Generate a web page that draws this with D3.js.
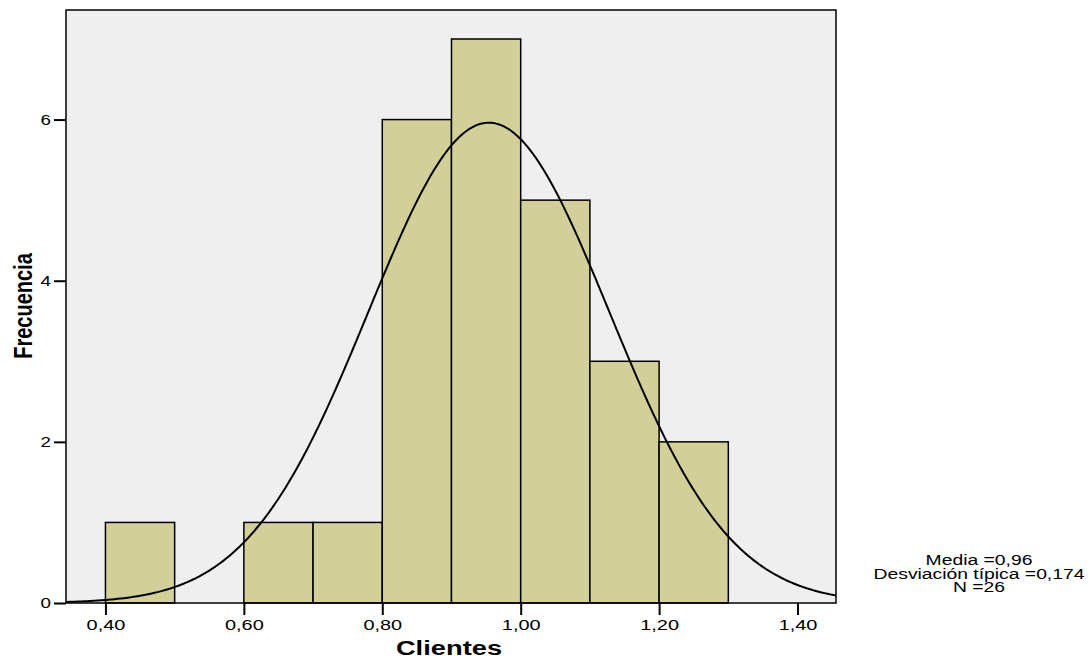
<!DOCTYPE html>
<html>
<head>
<meta charset="utf-8">
<script src="https://cdn.jsdelivr.net/npm/d3@7"></script>
<style>
  body { margin: 0; background: #fff; }
  text { font-family: "Liberation Sans", Arial, sans-serif; }
</style>
</head>
<body>
<div id="chart"></div>
<script>
// histogram of Clientes
const binStarts = [0.4, 0.5, 0.6, 0.7, 0.8, 0.9, 1.0, 1.1, 1.2]
const binWidth = 0.1
const counts = [1, 0, 1, 1, 6, 7, 5, 3, 2]
const xTicks = [0.4, 0.6, 0.8, 1.0, 1.2, 1.4]
const yTicks = [0, 2, 4, 6]
// summary stats shown in the legend; normal curve built from them
const mean = 0.954
const stdDev = 0.174
const n = 26
const statsLines = ['Media =0,96', 'Desviación típica =0,174', 'N =26']

const width = 1091, height = 658
const margin = { top: 10, right: 255, bottom: 55, left: 66 }
const innerW = width - margin.left - margin.right
const innerH = height - margin.top - margin.bottom
// the source image text is stretched horizontally
const stretch = 1.33

const svg = d3.select('#chart').append('svg')
  .attr('width', width).attr('height', height)

const g = svg.append('g').attr('transform', `translate(${margin.left},${margin.top})`)

const x = d3.scaleLinear().domain([0.343, 1.4556]).range([0, innerW])
const y = d3.scaleLinear().domain([0, 7.36]).range([innerH, 0])

g.append('rect').attr('width', innerW).attr('height', innerH).attr('fill', '#efefef')

g.selectAll('.bar')
  .data(binStarts.map((s, i) => ({ s, c: counts[i] })).filter((d) => d.c > 0))
  .join('rect')
  .attr('class', 'bar')
  .attr('x', (d) => x(d.s))
  .attr('y', (d) => y(d.c))
  .attr('width', (d) => x(d.s + binWidth) - x(d.s))
  .attr('height', (d) => innerH - y(d.c))
  .attr('fill', '#d3cf99')
  .attr('stroke', '#000')
  .attr('stroke-width', 1.5)

// normal curve scaled to counts
const fmt = (v) => d3.format('.2f')(v).replace('.', ',')
const pdf = (v) => n * binWidth / (stdDev * Math.sqrt(2 * Math.PI)) * Math.exp(-0.5 * ((v - mean) / stdDev) ** 2)
const curveX = d3.range(0, 401).map((i) => x.domain()[0] + (x.domain()[1] - x.domain()[0]) * i / 400)
g.append('path')
  .datum(curveX)
  .attr('fill', 'none')
  .attr('stroke', '#000')
  .attr('stroke-width', 2)
  .attr('d', d3.line().x((d) => x(d)).y((d) => y(pdf(d))))

g.append('rect').attr('width', innerW).attr('height', innerH)
  .attr('fill', 'none').attr('stroke', '#000').attr('stroke-width', 1.5)

const yAxis = g.append('g').call(d3.axisLeft(y).tickValues(yTicks).tickSize(12).tickPadding(3).tickFormat(d3.format('d')))
yAxis.select('.domain').remove()
yAxis.selectAll('line').attr('stroke-width', 2)
yAxis.selectAll('text').attr('font-size', 15).attr('fill', '#000')
  .attr('x', -15 / 1.25).attr('transform', 'scale(1.25,1)')
  .style('font-family', '"Liberation Sans", Arial, sans-serif')

const xAxis = g.append('g').attr('transform', `translate(0,${innerH})`)
  .call(d3.axisBottom(x).tickValues(xTicks).tickSize(12).tickPadding(4).tickFormat(fmt))
xAxis.select('.domain').remove()
xAxis.selectAll('line').attr('stroke-width', 2)
xAxis.selectAll('text').attr('font-size', 15).attr('fill', '#000')
  .attr('transform', `scale(${stretch},1)`)
  .style('font-family', '"Liberation Sans", Arial, sans-serif')

svg.append('text').attr('transform', `translate(449,655) scale(1.4,1)`)
  .attr('text-anchor', 'middle').attr('font-size', 19.5).attr('font-weight', 'bold').text('Clientes')

svg.append('text').attr('transform', `translate(31.5,306) scale(1.25,1) rotate(-90)`)
  .attr('text-anchor', 'middle').attr('font-size', 20).attr('font-weight', 'bold').text('Frecuencia')

svg.append('g').selectAll('text').data(statsLines).join('text')
  .attr('transform', (d, i) => `translate(979,${565 + i * 13.7}) scale(1.38,1)`)
  .attr('text-anchor', 'middle').attr('font-size', 14).text((d) => d)
</script>
</body>
</html>
